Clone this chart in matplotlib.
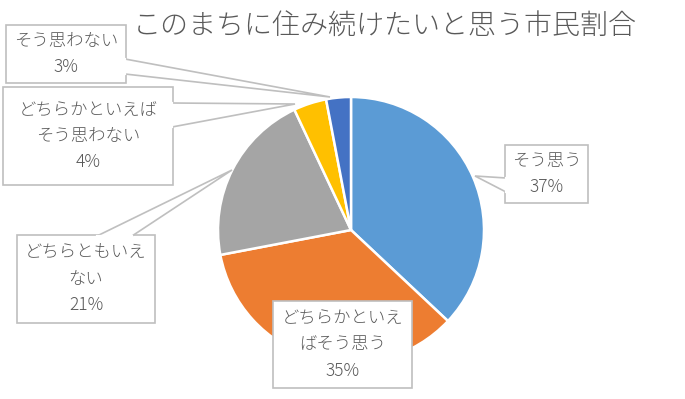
import matplotlib
matplotlib.use("Agg")
import matplotlib.pyplot as plt
from matplotlib.patches import Rectangle, Polygon

plt.rcParams['font.family'] = ['Noto Sans CJK JP', 'DejaVu Sans']

# data
title = 'このまちに住み続けたいと思う市民割合'
categories = ['そう思う', 'どちらかといえばそう思う', 'どちらともいえない',
              'どちらかといえばそう思わない', 'そう思わない']
# the way the labels are wrapped inside the callouts
label_lines = ['そう思う', 'どちらかといえ\nばそう思う', 'どちらともいえ\nない',
               'どちらかといえば\nそう思わない', 'そう思わない']
values = [37, 35, 21, 4, 3]
colors = ['#5B9BD5', '#ED7D31', '#A5A5A5', '#FFC000', '#4472C4']

W, H = 685, 399
fig = plt.figure(figsize=(W / 100, H / 100), dpi=100)
ax = fig.add_axes([0, 0, 1, 1])
ax.set_xlim(0, W)
ax.set_ylim(0, H)
ax.set_aspect('equal')
ax.axis('off')


def fy(y):
    # pixel row (from top) -> axes y
    return H - y


ax.pie(values, colors=colors, startangle=90, counterclock=False,
       center=(351, fy(230)), radius=133,
       wedgeprops=dict(edgecolor='white', linewidth=1.8))
ax.set_xlim(0, W)
ax.set_ylim(0, H)

ax.text(385, fy(26), title, ha='center', va='center', fontsize=20.2,
        color='#595959', fontweight='light')

# callout boxes: (x0, y0, x1, y1) in pixels, wedge base points and tip
boxes = [
    ((505, 145, 588, 203), [(506, 178), (506, 192)], (475, 176)),
    ((273, 301, 412, 388), None, None),
    ((17, 235, 155, 323), [(97, 236), (132, 236)], (232, 170)),
    ((3, 87, 173, 185), [(172, 103), (172, 127)], (295, 104)),
    ((6, 25, 126, 83), [(125, 59), (125, 74)], (330, 97)),
]

edge = '#BFBFBF'
for (box, base, tip), lab, v in zip(boxes, label_lines, values):
    x0, y0, x1, y1 = box
    if base is not None:
        pts = [(base[0][0], fy(base[0][1])), (tip[0], fy(tip[1])),
               (base[1][0], fy(base[1][1]))]
        ax.add_patch(Polygon(pts, closed=False, facecolor='white',
                             edgecolor=edge, linewidth=1.2, zorder=4))
    ax.add_patch(Rectangle((x0, fy(y1)), x1 - x0, y1 - y0, facecolor='white',
                           edgecolor=edge, linewidth=1.2, zorder=3))
    if base is not None:
        # cover the box edge where the pointer joins it
        ax.plot([base[0][0], base[1][0]], [fy(base[0][1]), fy(base[1][1])],
                color='white', linewidth=1.6, zorder=5)
    ax.text((x0 + x1) / 2, fy((y0 + y1) / 2), f'{lab}\n{v}%', ha='center',
            va='center', fontsize=12.5, color='#595959', linespacing=1.6,
            fontweight='light', zorder=6)

fig.savefig('out.png', dpi=100)
